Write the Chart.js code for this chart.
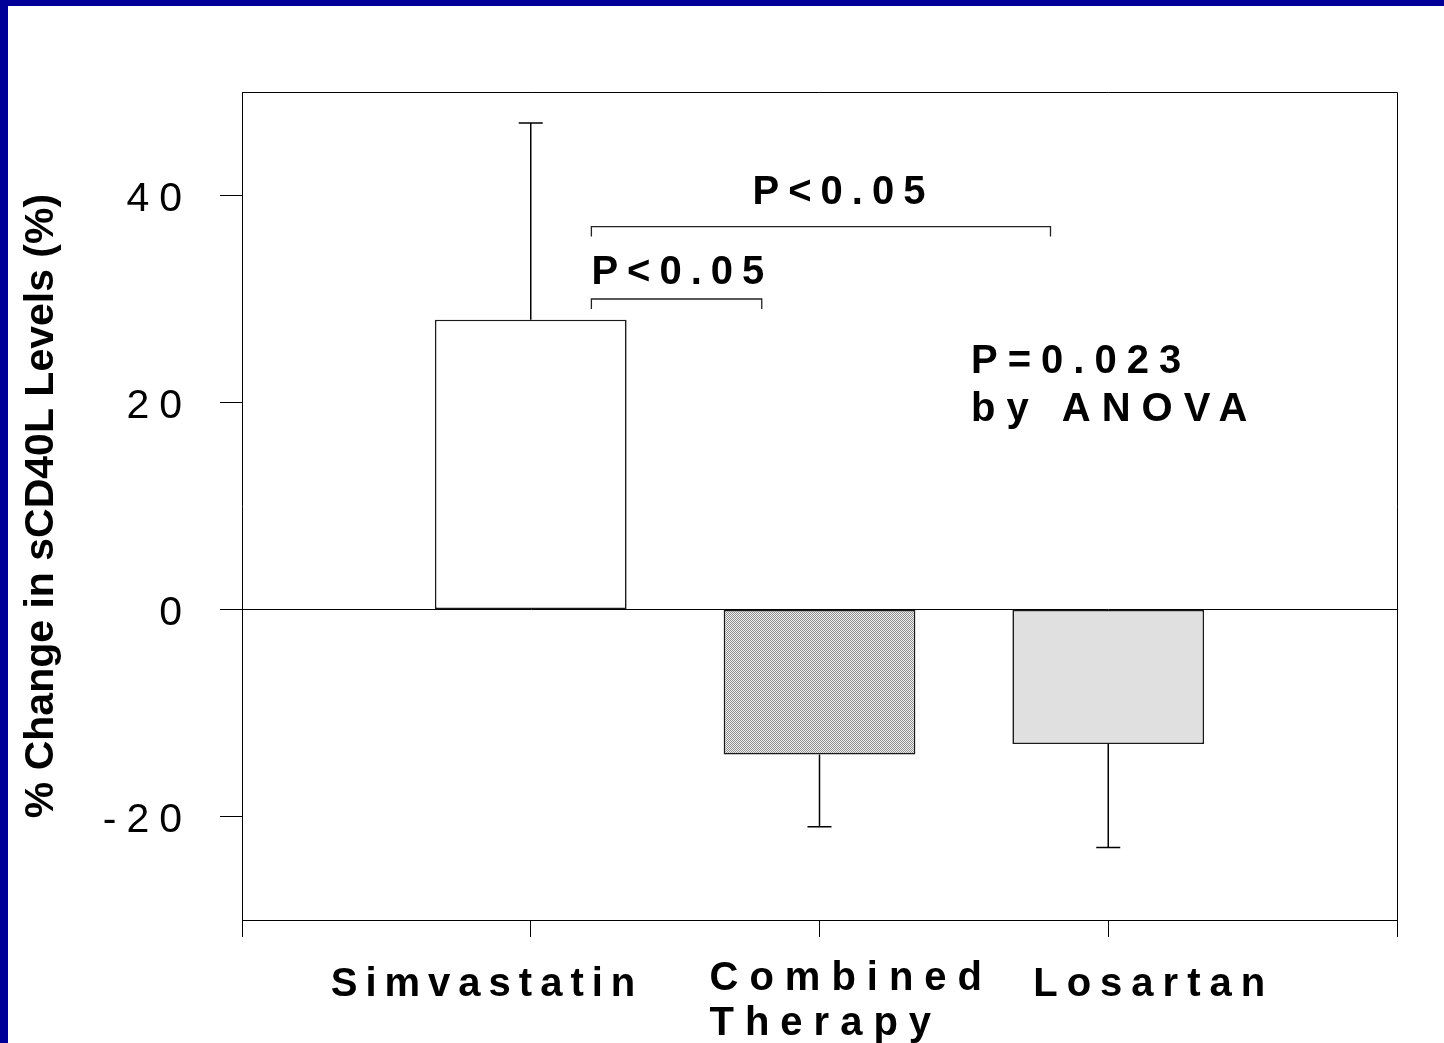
<!DOCTYPE html>
<html>
<head>
<meta charset="utf-8">
<script src="https://cdn.jsdelivr.net/npm/chart.js@4.4.0/dist/chart.umd.min.js"></script>
<style>
  html, body { margin: 0; padding: 0; background: #fff; }
  canvas { display: block; }
</style>
</head>
<body>
<canvas id="myChart" width="1444" height="1043"></canvas>
<script>
// veriler
var categories = ['Simvastatin', 'Combined Therapy', 'Losartan'];
var changeValues = [28, -14, -13];
var errorValues = [19, 7, 10];
var yTickValues = [-20, 0, 20, 40];
// anlamlılık parantezleri: başlangıç / bitiş kategorisi, yükseklik (%)
var bracketFrom = [0, 0];
var bracketTo = [2, 1];
var bracketLevel = [37, 30];
var bracketText = ['P<0.05', 'P<0.05'];
var anovaText = ['P=0.023', 'by ANOVA'];

var FONT = '"Liberation Sans", Arial, sans-serif';

function checker() {
    var c = document.createElement('canvas');
    c.width = 2; c.height = 2;
    var g = c.getContext('2d');
    g.fillStyle = '#f2f2f2'; g.fillRect(0, 0, 2, 2);
    g.fillStyle = '#8c8c8c'; g.fillRect(0, 0, 1, 1); g.fillRect(1, 1, 1, 1);
    return g.createPattern(c, 'repeat');
}

var labels = [''].concat(categories, ['']);
var values = [null].concat(changeValues, [null]);
var fills = [null, '#ffffff', checker(), '#e0e0e0', null];

var framePlugin = {
    id: 'frame',
    beforeDraw: function (chart) {
        var ctx = chart.ctx;
        ctx.save();
        ctx.fillStyle = '#ffffff';
        ctx.fillRect(0, 0, chart.width, chart.height);
        ctx.fillStyle = '#000099';
        ctx.fillRect(0, 0, chart.width, 6);
        ctx.fillRect(0, 0, 8, chart.height);
        ctx.restore();
    },
    afterDatasetsDraw: function (chart) {
        var ctx = chart.ctx;
        var x = chart.scales.x, y = chart.scales.y;
        ctx.save();
        ctx.strokeStyle = '#000';
        ctx.lineWidth = 1.5;
        // hata çubukları
        for (var i = 0; i < changeValues.length; i++) {
            var px = x.getPixelForValue(i + 1);
            var v = changeValues[i];
            var end = v >= 0 ? v + errorValues[i] : v - errorValues[i];
            var y0 = y.getPixelForValue(v), y1 = y.getPixelForValue(end);
            ctx.beginPath();
            ctx.moveTo(px, y0); ctx.lineTo(px, y1);
            ctx.moveTo(px - 12, y1); ctx.lineTo(px + 12, y1);
            ctx.stroke();
        }
        // parantezler
        var step = x.getPixelForValue(2) - x.getPixelForValue(1);
        ctx.lineWidth = 1.3;
        ctx.strokeStyle = '#222';
        for (var j = 0; j < bracketFrom.length; j++) {
            var xa = x.getPixelForValue(bracketFrom[j] + 1) + 0.21 * step;
            var xb = x.getPixelForValue(bracketTo[j] + 1) - 0.2 * step;
            var yb = y.getPixelForValue(bracketLevel[j]);
            ctx.beginPath();
            ctx.moveTo(xa, yb + 10); ctx.lineTo(xa, yb); ctx.lineTo(xb, yb); ctx.lineTo(xb, yb + 10);
            ctx.stroke();
        }
        ctx.restore();
    },
    afterDraw: function (chart) {
        var ctx = chart.ctx;
        var a = chart.chartArea;
        var x = chart.scales.x, y = chart.scales.y;
        ctx.save();
        ctx.strokeStyle = '#000';
        ctx.lineWidth = 1;
        ctx.beginPath();
        ctx.moveTo(a.left, a.top + 0.5); ctx.lineTo(a.right + 0.5, a.top + 0.5); ctx.lineTo(a.right + 0.5, a.bottom);
        ctx.stroke();

        ctx.fillStyle = '#000';
        // y eksen etiketleri
        ctx.font = '41px ' + FONT;
        ctx.letterSpacing = '10px';
        ctx.textAlign = 'right';
        yTickValues.forEach(function (v) {
            ctx.fillText(String(v), 192, y.getPixelForValue(v) + 15);
        });

        // x eksen etiketleri
        ctx.font = 'bold 40px ' + FONT;
        ctx.textAlign = 'left';
        var shift = [-200, -110, -75];
        var spacing = ['8px', '11px', '9px'];
        categories.forEach(function (c, i) {
            var lines = c.split(' ');
            var px = x.getPixelForValue(i + 1) + shift[i];
            var base = lines.length > 1 ? 990 : 996;
            ctx.letterSpacing = spacing[i];
            lines.forEach(function (t, k) {
                ctx.fillText(t, px, base + k * 45);
            });
        });

        // anlamlılık yazıları
        var step = x.getPixelForValue(2) - x.getPixelForValue(1);
        ctx.letterSpacing = '9px';
        var up = y.getPixelForValue(bracketLevel[0]);
        var lo = y.getPixelForValue(bracketLevel[1]);
        ctx.fillText(bracketText[0], x.getPixelForValue(2) - 67, up - 23);
        ctx.fillText(bracketText[1], x.getPixelForValue(1) + 0.21 * step, lo - 15);
        ctx.letterSpacing = '10px';
        ctx.fillText(anovaText[0], 971, 373);
        ctx.letterSpacing = '11px';
        ctx.fillText(anovaText[1], 971, 421);
        ctx.restore();
    }
};

var ctx = document.getElementById('myChart').getContext('2d');
var myChart = new Chart(ctx, {
    type: 'bar',
    data: {
        labels: labels,
        datasets: [{
            data: values,
            backgroundColor: fills,
            borderColor: '#1a1a1a',
            borderWidth: 1.6,
            borderSkipped: false,
            categoryPercentage: 1,
            barPercentage: 0.664
        }]
    },
    options: {
        responsive: false,
        animation: false,
        devicePixelRatio: 1,
        layout: { padding: { left: 0, top: 92, right: 47, bottom: 0 } },
        plugins: { legend: { display: false }, tooltip: { enabled: false } },
        scales: {
            x: {
                type: 'category',
                offset: false,
                grid: { offset: false, drawOnChartArea: false, tickLength: 17, tickColor: '#000', lineWidth: 1 },
                border: { display: true, color: '#000', width: 1 },
                ticks: { display: false },
                afterFit: function (s) { s.height = 123; }
            },
            y: {
                min: -30,
                max: 50,
                afterBuildTicks: function (s) {
                    s.ticks = yTickValues.map(function (v) { return { value: v }; });
                },
                grid: {
                    color: function (c) { return c.tick && c.tick.value === 0 ? '#000' : 'rgba(0,0,0,0)'; },
                    tickColor: '#000',
                    tickLength: 22,
                    lineWidth: 1
                },
                border: { display: true, color: '#000', width: 1 },
                ticks: { display: false },
                title: {
                    display: true,
                    text: '% Change in sCD40L Levels (%)',
                    color: '#000',
                    font: { family: FONT, size: 41, weight: 'bold' },
                    padding: { top: 17, bottom: 0 }
                },
                afterFit: function (s) { s.width = 242; }
            }
        }
    },
    plugins: [framePlugin]
});
</script>
</body>
</html>
